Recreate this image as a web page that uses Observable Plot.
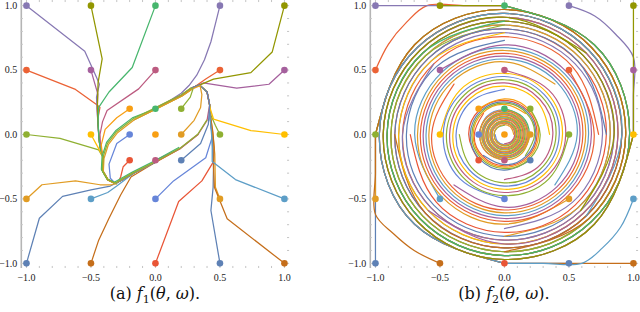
<!DOCTYPE html>
<html><head><meta charset="utf-8">
<script src="https://cdn.jsdelivr.net/npm/d3@7"></script>
<script src="https://cdn.jsdelivr.net/npm/@observablehq/plot@0.6"></script>
<style>
html,body{margin:0;padding:0;background:#fff;}
#wrap{display:flex;width:640px;height:312px;overflow:hidden;position:relative;}
.fig{width:320px;height:312px;position:relative;}
.fig svg{display:block;}
.cap{font-family:"DejaVu Serif",serif;font-size:16px;text-align:center;line-height:20px;height:28px;color:#111;white-space:nowrap;}
</style></head><body>
<div id="wrap"><div class="fig" id="a"></div><div class="fig" id="b"></div></div>
<script>
// ---- data ----
const startX = [-1,-1,-1,-1,-1,-0.5,-0.5,-0.5,-0.5,-0.5,0,0,0,0,0,0.5,0.5,0.5,0.5,0.5,1,1,1,1,1,-0.2,-0.2,-0.2,0,0,0.2,0.2,0.2];
const startY = [-1,-0.5,0,0.5,1,-1,-0.5,0,0.5,1,-1,-0.5,0,0.5,1,-1,-0.5,0,0.5,1,-1,-0.5,0,0.5,1,-0.2,0,0.2,-0.2,0.2,-0.2,0,0.2];
const majorTicks = [-1,-0.5,0,0.5,1];
const minorTicks = [-0.9,-0.8,-0.7,-0.6,-0.4,-0.3,-0.2,-0.1,0.1,0.2,0.3,0.4,0.6,0.7,0.8,0.9];

// panel (a): attracting loop of f1, in flow order
const LOOP = [[-0.31,-0.38],[-0.17,-0.30],[0.00,-0.215],[0.19,-0.11],[0.33,0.00],[0.40,0.11],[0.42,0.23],[0.40,0.33],[0.34,0.385],[0.28,0.36],[0.20,0.305],[0.10,0.255],[0.00,0.205],[-0.17,0.12],[-0.30,0.02],[-0.37,-0.07],[-0.405,-0.18],[-0.41,-0.28],[-0.37,-0.35]];
const leftHeads = [
 [[-0.90,-0.65],[-0.72,-0.48],[-0.50,-0.43],[-0.35,-0.40]],
 [[-0.88,-0.39],[-0.62,-0.36],[-0.43,-0.39],[-0.34,-0.39]],
 [[-0.74,-0.03],[-0.44,-0.12]],
 [[-0.62,0.35],[-0.457,0.233],[-0.43,0.21],[-0.447,0.12],[-0.44,0.0],[-0.43,-0.1]],
 [[-0.548,0.646],[-0.452,0.432],[-0.435,0.39],[-0.457,0.29],[-0.45,0.15],[-0.44,0.0],[-0.43,-0.1]],
 [[-0.44,-0.82],[-0.36,-0.65],[-0.27,-0.47],[-0.19,-0.33]],
 [[-0.37,-0.45],[-0.30,-0.40]],
 [[-0.44,-0.11]],
 [[-0.473,0.405],[-0.447,0.315],[-0.452,0.2],[-0.445,0.08],[-0.435,-0.05]],
 [[-0.413,0.587],[-0.445,0.40],[-0.45,0.22],[-0.445,0.08],[-0.435,-0.06]],
 [[0.18,-0.52],[0.36,-0.36],[0.45,-0.21],[0.445,-0.1],[0.44,0.0],[0.425,0.12]],
 [[0.14,-0.36],[0.39,-0.18],[0.44,-0.02],[0.425,0.12]],
 [],
 [[-0.13,0.354],[-0.375,0.186],[-0.41,0.10],[-0.43,0.0],[-0.425,-0.1]],
 [[-0.18,0.52],[-0.36,0.33],[-0.44,0.21],[-0.445,0.1],[-0.44,0.0],[-0.43,-0.1]],
 [[0.43,-0.59],[0.447,-0.41],[0.45,-0.25],[0.445,-0.1],[0.44,0.0],[0.425,0.12]],
 [[0.465,-0.41],[0.46,-0.15],[0.445,0.0],[0.43,0.12]],
 [[0.465,0.07],[0.43,0.15]],
 [[0.39,0.43],[0.31,0.375]],
 [[0.47,0.88],[0.43,0.72],[0.38,0.58],[0.32,0.46],[0.26,0.38],[0.2,0.32]],
 [[0.556,-0.654],[0.457,-0.41],[0.45,-0.25],[0.455,-0.1],[0.445,0.02],[0.43,0.12]],
 [[0.62,-0.35],[0.44,-0.21],[0.44,-0.1],[0.435,0.0],[0.425,0.12]],
 [[0.74,0.03],[0.45,0.12],[0.425,0.2]],
 [[0.88,0.39],[0.63,0.36],[0.37,0.40]],
 [[0.905,0.64],[0.74,0.48],[0.45,0.43],[0.31,0.37]],
 [[-0.25,-0.25],[-0.27,-0.33],[-0.29,-0.37]],
 [[-0.30,-0.07],[-0.36,-0.23],[-0.35,-0.34]],
 [[-0.30,0.13],[-0.39,0.04],[-0.42,-0.08]],
 [],
 [],
 [[0.35,-0.07],[0.41,0.08]],
 [[0.30,0.11],[0.35,0.21],[0.36,0.31]],
 [[0.27,0.29],[0.29,0.35]]
];
// [loop start index, number of loop points]
const leftTail = [[0,3],[0,3],[16,6],[16,5],[16,5],[2,3],[1,2],[16,5],[16,5],[16,5],[6,4],[6,4],null,[16,4],[16,5],[6,4],[6,5],[6,5],[10,3],[11,2],[6,4],[6,4],[7,4],[9,3],[10,4],[1,3],[0,3],[16,6],[3,5],[13,10],[6,4],[8,12],[9,16]];
const leftLane = [0,0,0,0,0,0,0,0,0,0,0,0,0,0,0,0,0,0,0,0,0,0,0,0,-0.006,0,0,0.004,0,0.009,0,-0.006,0.002];

// panel (b): radii of f2 orbits at successive 45° clockwise steps
const outerR = [1.000,0.985,0.970,0.955,0.940,0.925,0.910,0.895,0.880,0.865,0.850,0.835,0.820,0.805,0.790,0.775,0.760,0.745,0.730];
const midR   = [0.707,0.696,0.685,0.674,0.663,0.652,0.641,0.630,0.619,0.608,0.597,0.586,0.575,0.564,0.553];
const lowR   = [0.500,0.487,0.475,0.462,0.450,0.437,0.425,0.412,0.400,0.387,0.375,0.362,0.350];
const diagR  = [0.283,0.277,0.271,0.265,0.259,0.253,0.248,0.243,0.238,0.234,0.230];
const coreR  = [0.200,0.196,0.192,0.188,0.184,0.180,0.176,0.172,0.168,0.164,0.160,0.156,0.152,0.148,0.144,0.140,0.136,0.132,0.128,0.124,0.120,0.116,0.112,0.108,0.104,0.100,0.096,0.092,0.088,0.084,0.080,0.076,0.072];
const coreTightR = [0.200,0.198,0.196,0.194,0.192,0.190,0.188,0.186,0.184,0.182,0.180,0.178,0.176,0.174,0.172,0.170,0.168,0.166,0.164,0.162,0.160,0.158,0.156,0.154,0.152,0.150,0.148,0.146,0.144,0.142,0.140,0.138,0.136,0.134,0.132,0.130,0.128,0.126,0.124,0.122,0.120,0.118,0.116,0.114,0.112,0.110,0.108,0.106,0.104,0.102,0.100,0.098,0.096,0.094,0.092,0.090,0.088,0.086,0.084,0.082,0.080,0.078,0.076,0.074,0.072];
// clamped edge / first-arc points before the orbit
const rightHeads = [
 [[-1,-0.5]],
 [],
 [],
 [[-0.9,0.7],[-0.76,0.87],[-0.6,1],[-0.3,1]],
 [[-0.5,1]],
 [[-0.7,-0.9],[-0.86,-0.77],[-1,-0.62],[-1,-0.3]],
 [],[],[],
 [],
 [],[],[],[],[],
 [],
 [],[],[],
 [[0.7,0.92],[0.86,0.78],[1,0.6],[1,0.3]],
 [[0.5,-1]],
 [[0.9,-0.72],[0.76,-0.88],[0.6,-1],[0.3,-1]],
 [],
 [],
 [[1,0.5]],
 [],[],[],[],[],[],[],[]
];
// [radius table, start angle (deg), steps]
const rightSpiral = [
 ["outer",180,18],["outer",180,14],["outer",180,10],["outer",90,18],["outer",90,15],
 ["outer",180,6],["mid",225,14],["low",180,12],["mid",135,14],["outer",90,11],
 ["outer",270,18],["low",270,12],null,["low",90,12],["outer",90,8],
 ["outer",270,14],["mid",315,14],["low",0,12],["mid",45,14],["outer",0,18],
 ["outer",270,10],["outer",270,7],["outer",0,14],["outer",0,11],["outer",0,7],
 ["diag",225,10],["core",180,32],["diag",135,10],["core",270,32],["core",90,32],
 ["diag",315,10],["coreTight",0,64],["diag",45,10]
];

// ---- styling ----
const pal = ["#5E81B5","#E19C24","#8FB032","#EB6235","#8778B3","#C56E1A","#5D9EC7","#FFBF00","#A5609D","#929600","#E95536","#6685D9","#F89F13","#BC5B80","#47B66D"];
const colorOf = i => pal[i % pal.length];
const LO = -1.04, HI = 1.04;
const tables = {outer: outerR, mid: midR, low: lowR, diag: diagR, core: coreR, coreTight: coreTightR};

const dots = startX.map((x,i)=>({x, y:startY[i], c:colorOf(i)}));

const rowsA = [];
startX.forEach((x,i)=>{
  const pts = [[x,startY[i]], ...leftHeads[i]];
  const t = leftTail[i];
  if (t) { const d = leftLane[i]; for (let k=0;k<t[1];k++){ const p = LOOP[(t[0]+k)%LOOP.length]; pts.push([p[0]-d, p[1]+d]); } }
  if (pts.length>1) pts.forEach(p=>rowsA.push({x:p[0], y:p[1], id:i, c:colorOf(i)}));
});
// panel b: edge/arc heads (one mark) and orbits (another mark)
const rowsHead = [], rowsOrbit = [];
startX.forEach((x,i)=>{
  const sp = rightSpiral[i];
  if (!sp) return;
  const R = tables[sp[0]];
  const orbit = [];
  for (let k=0;k<=sp[2];k++){ const a=(sp[1]-45*k)*Math.PI/180; orbit.push([R[k]*Math.cos(a), R[k]*Math.sin(a)]); }
  const head = [[x,startY[i]], ...rightHeads[i], orbit[0]];
  const d0 = Math.hypot(head[0][0]-orbit[0][0], head[0][1]-orbit[0][1]);
  if (d0 > 1e-6) head.forEach(p=>rowsHead.push({x:p[0], y:p[1], id:i, c:colorOf(i)}));
  orbit.forEach(p=>rowsOrbit.push({x:p[0], y:p[1], id:i, c:colorOf(i)}));
});

const tc = "#c4c4c4";
function frameMarks(){
  return [
    Plot.ruleX([LO],{stroke:"#b5b5b5",strokeWidth:1.6}),
    Plot.ruleX(minorTicks,{x:d=>d,y1:LO,y2:LO+0.016,stroke:tc}),
    Plot.ruleX(majorTicks,{x:d=>d,y1:LO,y2:LO+0.032,stroke:tc}),
    Plot.ruleX(minorTicks,{x:d=>d,y1:HI,y2:HI-0.016,stroke:tc}),
    Plot.ruleX(majorTicks,{x:d=>d,y1:HI,y2:HI-0.032,stroke:tc}),
    Plot.ruleY(minorTicks,{y:d=>d,x1:HI,x2:HI-0.016,stroke:tc}),
    Plot.ruleY(majorTicks,{y:d=>d,x1:HI,x2:HI-0.032,stroke:tc}),
    Plot.ruleY(minorTicks,{y:d=>d,x1:LO,x2:LO+0.016,stroke:tc}),
    Plot.ruleY(majorTicks,{y:d=>d,x1:LO,x2:LO+0.032,stroke:tc})
  ];
}
function panel(ml, mr, lineMarks){
  return Plot.plot({
    width:320, height:284, marginLeft:ml, marginRight:mr, marginTop:0, marginBottom:16,
    x:{domain:[LO,HI], ticks:majorTicks, tickFormat:d3.format(".1f"), tickSize:0, tickPadding:5, label:null},
    y:{domain:[LO,HI], ticks:majorTicks, tickFormat:d3.format(".1f"), tickSize:0, tickPadding:4, label:null},
    color:{type:"identity"},
    style:{fontFamily:"'Liberation Serif', serif", fontSize:"10px", background:"white", color:"#222", overflow:"visible"},
    marks:[
      ...frameMarks(),
      ...lineMarks,
      Plot.dot(dots,{x:"x",y:"y",fill:"c",r:3.3})
    ]
  });
}
function caption(ml, mr, html){
  const d = document.createElement("div");
  d.className = "cap";
  d.style.marginLeft = ml+"px";
  d.style.width = (320-ml-mr)+"px";
  d.innerHTML = html;
  return d;
}
const A = document.getElementById("a"), B = document.getElementById("b");
A.appendChild(panel(20.8, 30.9, [
  Plot.line(rowsA,{x:"x",y:"y",z:"id",stroke:"c",strokeWidth:1.25,curve:d3.curveLinear})
]));
A.appendChild(caption(20.8, 30.9, "(a) <i>f</i><sub style=\"font-size:11px\">1</sub>(<i>θ</i>, <i>ω</i>)."));
B.appendChild(panel(49.8, 1.9, [
  Plot.line(rowsHead,{x:"x",y:"y",z:"id",stroke:"c",strokeWidth:1.25,curve:d3.curveCatmullRom}),
  Plot.line(rowsOrbit,{x:"x",y:"y",z:"id",stroke:"c",strokeWidth:1.2,curve:d3.curveNatural})
]));
B.appendChild(caption(49.8, 1.9, "(b) <i>f</i><sub style=\"font-size:11px\">2</sub>(<i>θ</i>, <i>ω</i>)."));
</script></body></html>
